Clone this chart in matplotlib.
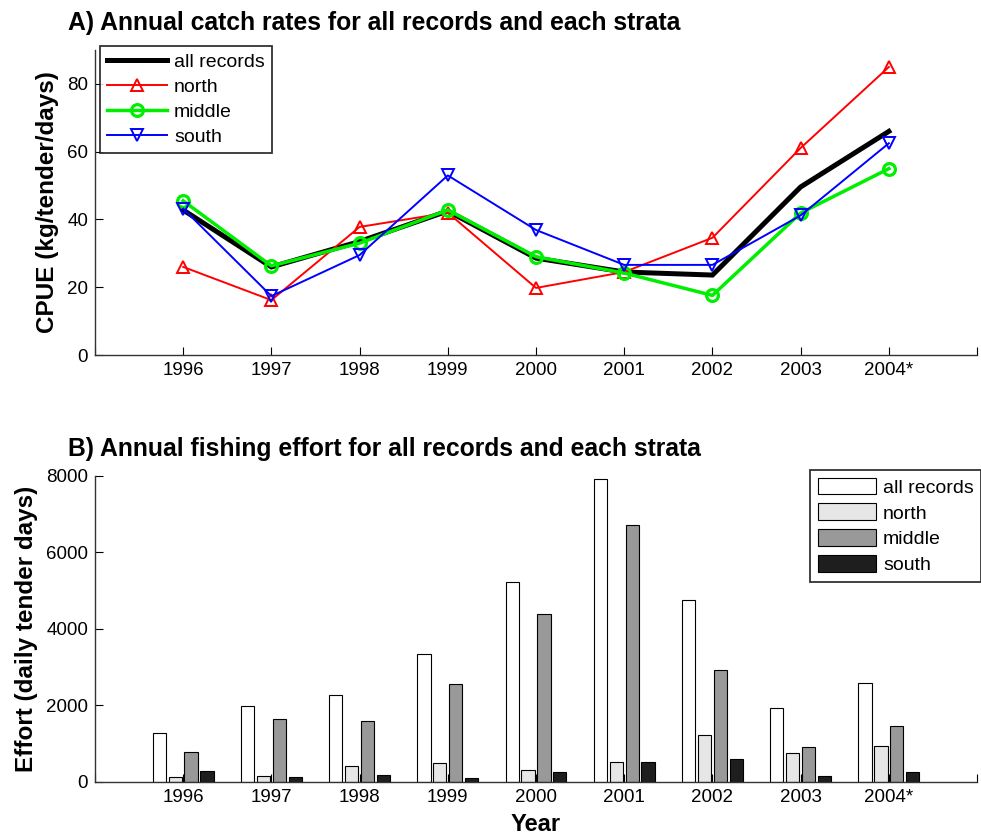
import matplotlib
matplotlib.use("Agg")
import matplotlib.pyplot as plt
import numpy as np

plt.rcParams['font.family'] = ['Liberation Sans', 'DejaVu Sans']

years = ['1996', '1997', '1998', '1999', '2000', '2001', '2002', '2003', '2004*']

cpue_all = [42.8, 26.0, 33.5, 42.5, 28.6, 24.5, 23.6, 49.6, 66.0]
cpue_north = [26.0, 16.2, 37.8, 42.0, 19.8, 24.5, 34.6, 61.1, 85.0]
cpue_middle = [45.5, 26.3, 33.0, 42.8, 29.0, 24.2, 17.6, 41.9, 55.0]
cpue_south = [43.2, 17.4, 29.5, 53.0, 36.9, 26.6, 26.6, 41.2, 62.5]

eff_all = [1270, 1990, 2270, 3340, 5230, 7920, 4760, 1930, 2590]
eff_north = [130, 160, 420, 500, 310, 520, 1230, 760, 940]
eff_middle = [780, 1650, 1590, 2560, 4390, 6720, 2930, 910, 1460]
eff_south = [280, 130, 180, 100, 260, 520, 600, 150, 260]

x = np.arange(1, len(years) + 1)
xticks = np.arange(0, len(years) + 2)
xticklabels = [''] + years + ['']

fig = plt.figure(figsize=(9.81, 8.34), dpi=100)

# ---- Panel A ----
ax1 = fig.add_axes([0.0968, 0.5743, 0.8992, 0.3657])
ax1.plot(x, cpue_all, color='black', lw=3.6, label='all records', solid_joinstyle='miter')
ax1.plot(x, cpue_north, color='red', lw=1.4, marker='^', ms=9, mfc='none', mew=1.4, label='north')
ax1.plot(x, cpue_middle, color='#00ee00', lw=2.5, marker='o', ms=8.5, mfc='none', mew=2.3, label='middle')
ax1.plot(x, cpue_south, color='blue', lw=1.4, marker='v', ms=9, mfc='none', mew=1.4, label='south')
ax1.set_xlim(0, 10)
ax1.set_ylim(0, 90)
ax1.set_yticks([0, 20, 40, 60, 80])
ax1.set_xticks(xticks)
ax1.set_xticklabels(xticklabels)
ax1.set_ylabel('CPUE (kg/tender/days)', fontsize=17.5, fontweight='bold', labelpad=6)
ax1.text(-0.03, 1.065, 'A) Annual catch rates for all records and each strata', fontsize=17.8,
         fontweight='bold', transform=ax1.transAxes, ha='left', va='baseline')
leg1 = ax1.legend(loc='upper left', fontsize=14, frameon=True, fancybox=False,
                  edgecolor='black', handlelength=3.1, borderaxespad=0.0,
                  labelspacing=0.38, handletextpad=0.35, borderpad=0.35,
                  bbox_to_anchor=(0.006, 1.012))
leg1.get_frame().set_linewidth(1.3)

# ---- Panel B ----
ax2 = fig.add_axes([0.0968, 0.0624, 0.8992, 0.3669])
w = 0.15
ax2.bar(x - 0.27, eff_all, w, color='white', edgecolor='black', lw=0.8, label='all records')
ax2.bar(x - 0.09, eff_north, w, color='#e6e6e6', edgecolor='black', lw=0.8, label='north')
ax2.bar(x + 0.09, eff_middle, w, color='#999999', edgecolor='black', lw=0.8, label='middle')
ax2.bar(x + 0.27, eff_south, w, color='#1e1e1e', edgecolor='black', lw=0.8, label='south')
ax2.set_xlim(0, 10)
ax2.set_ylim(0, 8000)
ax2.set_yticks([0, 2000, 4000, 6000, 8000])
ax2.set_xticks(xticks)
ax2.set_xticklabels(xticklabels)
ax2.set_ylabel('Effort (daily tender days)', fontsize=17.5, fontweight='bold', labelpad=6)
ax2.set_xlabel('Year', fontsize=17, fontweight='bold', labelpad=5)
ax2.text(-0.03, 1.065, 'B) Annual fishing effort for all records and each strata', fontsize=17.8,
         fontweight='bold', transform=ax2.transAxes, ha='left', va='baseline')
leg2 = ax2.legend(loc='upper right', fontsize=14, frameon=True, fancybox=False,
                  edgecolor='black', handlelength=3.0, handleheight=0.95, borderaxespad=0.0,
                  labelspacing=0.35, handletextpad=0.35, borderpad=0.4,
                  bbox_to_anchor=(1.005, 1.02))
leg2.get_frame().set_linewidth(1.3)

for ax in (ax1, ax2):
    ax.spines['top'].set_visible(False)
    ax.spines['right'].set_visible(False)
    for s in ('left', 'bottom'):
        ax.spines[s].set_color('#333333')
        ax.spines[s].set_linewidth(1.0)
    ax.tick_params(direction='in', length=6, labelsize=13.5, width=0.8, pad=5)

fig.savefig('out.png', dpi=100)
